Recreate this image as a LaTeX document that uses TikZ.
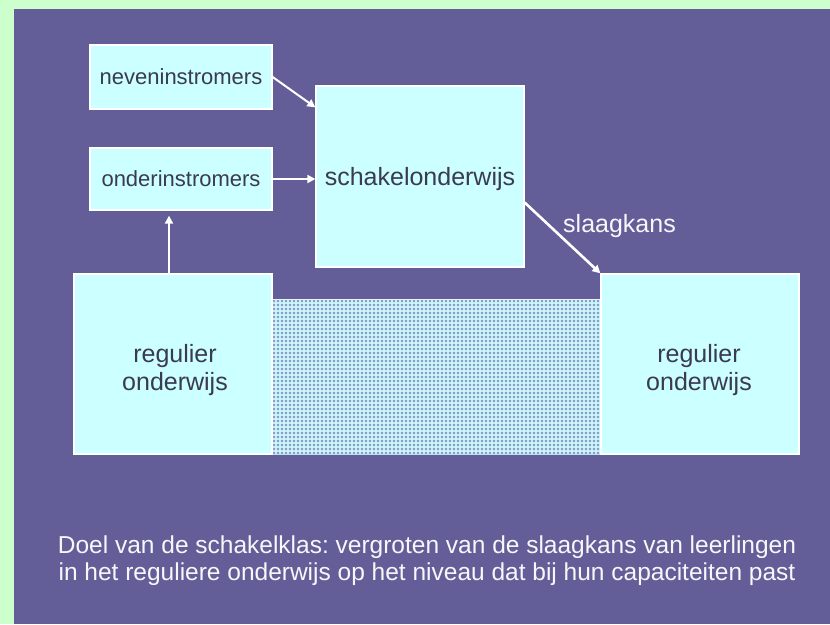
\documentclass[tikz,border=0pt]{standalone}
\usepackage{fontspec}
\setmainfont{Liberation Sans}
\usetikzlibrary{arrows.meta,calc}
\frenchspacing
\definecolor{frame}{RGB}{204,255,204}
\definecolor{bg}{RGB}{99,94,152}
\definecolor{boxfill}{RGB}{204,255,255}
\definecolor{boxtext}{RGB}{58,58,80}
\definecolor{hatchbg}{RGB}{140,158,200}
\definecolor{hatchline}{RGB}{205,250,252}
\tikzset{
  box/.style={draw=white,line width=1.3pt,fill=boxfill,inner sep=0pt,text=boxtext,align=center},
  smalltxt/.style={font=\fontsize{22}{26}\selectfont},
  bigtxt/.style={font=\fontsize{25}{28}\selectfont},
  flow/.style={draw=white,line width=2pt,-{Triangle[length=8pt,width=8pt]}},
}
\begin{document}
\begin{tikzpicture}[x=1pt,y=-1pt]
\useasboundingbox (0,0) rectangle (830,624);
\fill[frame] (0,0) rectangle (830,624);
\fill[bg] (14,9) rectangle (830,624);
% hatched area
\fill[hatchbg] (272,299) rectangle (601,454);
\begin{scope}
\clip (272,299) rectangle (601,454);
\foreach \x in {272,276,...,604} {\draw[hatchline,line width=1.3pt,opacity=0.85] (\x,299) -- (\x,454);}
\foreach \y in {299,303,...,456} {\draw[hatchline,line width=1.3pt,opacity=0.85] (272,\y) -- (601,\y);}
\end{scope}
\draw[white!85!hatchbg,line width=1pt] (272,299) -- (601,299);
% boxes
\node[box,smalltxt,minimum width=182pt,minimum height=64pt] (nev) at (181,77) {neveninstromers};
\node[box,smalltxt,minimum width=182pt,minimum height=62pt] (ond) at (181,179) {onderinstromers};
\node[box,minimum width=208pt,minimum height=181pt] (sch) at (420,176.5) {};
\node[bigtxt,text=boxtext,inner sep=0pt] (schl) at (420,179) {schakelonderwijs};
\node[box,minimum width=198pt,minimum height=180pt] (regL) at (173,364) {};
\node[bigtxt,text=boxtext,align=center,inner sep=0pt] (regLt) at (175,370) {regulier\\onderwijs};
\node[box,minimum width=198pt,minimum height=180pt] (regR) at (700,364) {};
\node[bigtxt,text=boxtext,align=center,inner sep=0pt] (regRt) at (699,370) {regulier\\onderwijs};
% arrows
\draw[flow] (nev.east) -- ([yshift=-22pt]sch.north west);
\draw[flow] (ond.east) -- (ond.east -| sch.west);
\draw[flow] ([xshift=-4pt]regL.north) -- ([xshift=-4pt,yshift=-5pt]regL.north |- ond.south);
\draw[flow,line width=2.6pt] ([yshift=-26pt]sch.east) -- (regR.north west);
\node[bigtxt,text=white!95!bg,anchor=base west,inner sep=0pt] (slk) at (563,232) {slaagkans};
% bottom text
\node[text=white!95!bg,align=center,inner sep=0pt,font=\fontsize{24.5}{27}\selectfont,anchor=base] (doel) at (427,580) {Doel van de schakelklas: vergroten van de slaagkans van leerlingen\\in het reguliere onderwijs op het niveau dat bij hun capaciteiten past};
\end{tikzpicture}
\end{document}
